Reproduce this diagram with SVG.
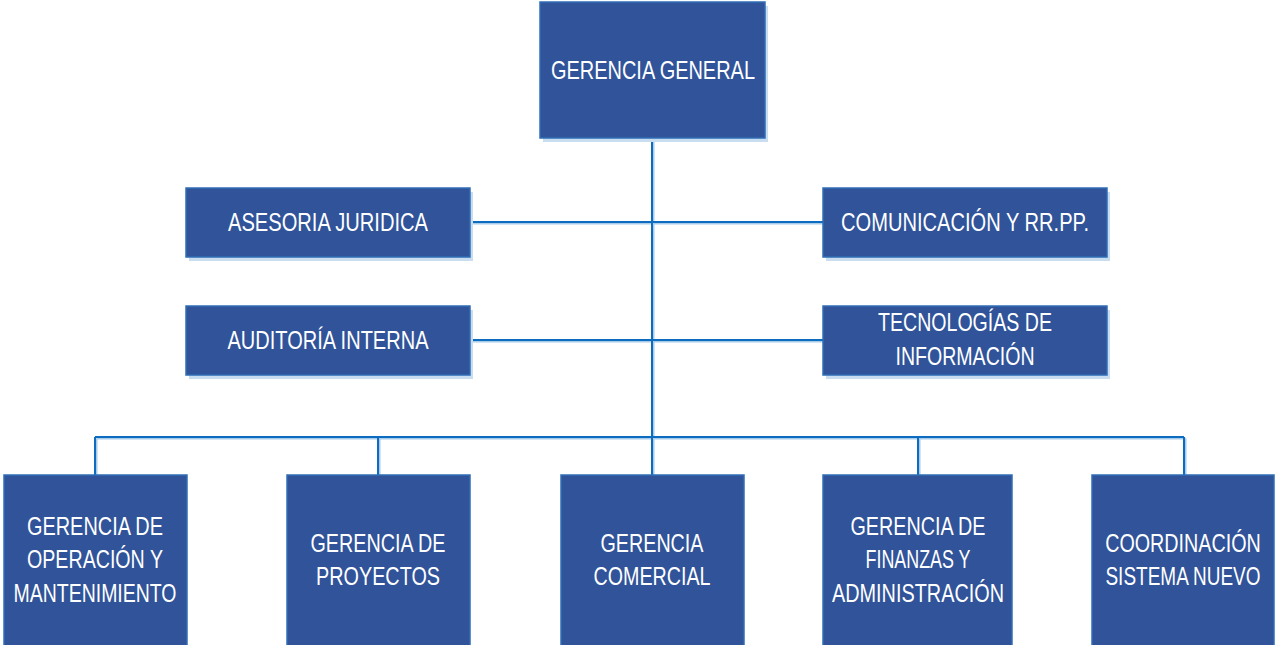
<svg xmlns="http://www.w3.org/2000/svg" width="1275" height="645" viewBox="0 0 1275 645">
<style>
.box{fill:#30539A;stroke:#2F6DB5;stroke-width:1.5}
.sh{fill:#C9DDF1}
.t{font-family:"Liberation Sans",Arial,sans-serif;font-size:25px;fill:#FFFFFF;text-anchor:middle}
.ln{fill:none;stroke:#0B6CC0;stroke-width:2}
.lns{fill:none;stroke:#A8CBEA;stroke-width:2}
</style>
<rect width="1275" height="645" fill="#FFFFFF"/>
<g id="connectors">
<g transform="translate(1.5,1.5)">
<path class="lns" d="M652,138V475M470,222H823M470,340H823M95,437H1184M95,437V475M378,437V475M918,437V475M1184,437V475"/>
</g>
<path class="ln" d="M652,138V475M470,222H823M470,340H823M95,437H1184M95,437V475M378,437V475M918,437V475M1184,437V475"/>
</g>
<g id="gerencia-general">
<rect class="sh" x="543" y="6" width="225" height="136"/>
<rect class="box" x="540" y="2" width="225" height="136"/>
<text class="t" x="653" y="79" textLength="204" lengthAdjust="spacingAndGlyphs">GERENCIA GENERAL</text>
</g>
<g id="asesoria-juridica">
<rect class="sh" x="189" y="192" width="284" height="69"/>
<rect class="box" x="186" y="188" width="284" height="69"/>
<text class="t" x="328" y="231" textLength="200" lengthAdjust="spacingAndGlyphs">ASESORIA JURIDICA</text>
</g>
<g id="comunicacion">
<rect class="sh" x="826" y="192" width="284" height="69"/>
<rect class="box" x="823" y="188" width="284" height="69"/>
<text class="t" x="965" y="231" textLength="248" lengthAdjust="spacingAndGlyphs">COMUNICACIÓN Y RR.PP.</text>
</g>
<g id="auditoria-interna">
<rect class="sh" x="189" y="310" width="284" height="69"/>
<rect class="box" x="186" y="306" width="284" height="69"/>
<text class="t" x="328" y="349" textLength="201" lengthAdjust="spacingAndGlyphs">AUDITORÍA INTERNA</text>
</g>
<g id="tecnologias">
<rect class="sh" x="826" y="310" width="284" height="69"/>
<rect class="box" x="823" y="306" width="284" height="69"/>
<text class="t" x="965" y="331" textLength="174" lengthAdjust="spacingAndGlyphs">TECNOLOGÍAS DE</text>
<text class="t" x="965" y="365" textLength="139" lengthAdjust="spacingAndGlyphs">INFORMACIÓN</text>
</g>
<g id="gerencia-operacion">
<rect class="box" x="4" y="475" width="183" height="175"/>
<text class="t" x="95" y="535" textLength="136" lengthAdjust="spacingAndGlyphs">GERENCIA DE</text>
<text class="t" x="95" y="568" textLength="136" lengthAdjust="spacingAndGlyphs">OPERACIÓN Y</text>
<text class="t" x="95" y="602" textLength="163" lengthAdjust="spacingAndGlyphs">MANTENIMIENTO</text>
</g>
<g id="gerencia-proyectos">
<rect class="box" x="287" y="475" width="183" height="175"/>
<text class="t" x="378" y="552" textLength="135" lengthAdjust="spacingAndGlyphs">GERENCIA DE</text>
<text class="t" x="378" y="585" textLength="124" lengthAdjust="spacingAndGlyphs">PROYECTOS</text>
</g>
<g id="gerencia-comercial">
<rect class="box" x="561" y="475" width="183" height="175"/>
<text class="t" x="652" y="552" textLength="103" lengthAdjust="spacingAndGlyphs">GERENCIA</text>
<text class="t" x="652" y="585" textLength="117" lengthAdjust="spacingAndGlyphs">COMERCIAL</text>
</g>
<g id="gerencia-finanzas">
<rect class="box" x="823" y="475" width="189" height="175"/>
<text class="t" x="918" y="535" textLength="135" lengthAdjust="spacingAndGlyphs">GERENCIA DE</text>
<text class="t" x="918" y="568" textLength="105" lengthAdjust="spacingAndGlyphs">FINANZAS Y</text>
<text class="t" x="918" y="602" textLength="172" lengthAdjust="spacingAndGlyphs">ADMINISTRACIÓN</text>
</g>
<g id="coordinacion">
<rect class="box" x="1092" y="475" width="182" height="175"/>
<text class="t" transform="translate(1183,552) scale(0.79,1)" x="0" y="0">COORDINACIÓN</text>
<text class="t" transform="translate(1183,585) scale(0.76,1)" x="0" y="0">SISTEMA NUEVO</text>
</g>
</svg>
